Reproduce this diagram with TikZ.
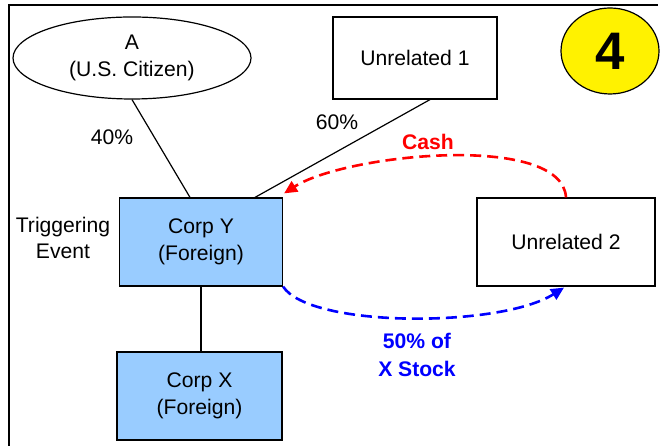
\documentclass[tikz,border=0pt]{standalone}
\usepackage{fontspec}
\setmainfont{Liberation Sans}
\usepackage{xcolor}
\usetikzlibrary{shapes.geometric,arrows.meta,calc}
\definecolor{corpblue}{HTML}{99CCFF}
\begin{document}
\begin{tikzpicture}[x=1bp,y=1bp,
  txt/.style={font=\fontsize{21.2}{27}\selectfont,align=center},
  ent/.style={txt,draw,line width=1.2bp,inner sep=0pt},
  box/.style={ent,rectangle,minimum width=164bp,minimum height=88bp},
  corp/.style={box,fill=corpblue},
  flow/.style={line width=2.6bp,dash pattern=on 11bp off 6bp,-{Triangle[length=13bp,width=12bp]}}]
\useasboundingbox (0,0) rectangle (664,446);
\draw[line width=2.6bp](9,0)--(9,441)--(658,441);
\node[ent,ellipse,minimum width=238bp,minimum height=82bp] (a) at (132,388) {A\\(U.S. Citizen)};
\node[box,minimum height=82bp] (un1) at (415,388) {Unrelated 1};
\node[ent,ellipse,fill=yellow,minimum width=98bp,minimum height=86bp,font=\fontsize{53}{60}\selectfont\bfseries] (four) at (610,395) {4};
\node[corp,minimum width=163bp] (corpy) at (201,204) {Corp Y\\(Foreign)};
\node[box,minimum width=178bp] (un2) at (566,204) {Unrelated 2};
\node[corp,minimum width=165bp] (corpx) at (199.5,50) {Corp X\\(Foreign)};
\draw[line width=1.2bp](a.south)--($(corpy.north)+(-11,0)$);
\draw[line width=1.2bp]($(un1.south)+(15,0)$)--($(corpy.north)+(54,0)$);
\draw[line width=1.2bp](corpy.south)--(corpy.south|-corpx.north);
\node[txt] (p40) at (112,309) {40\%};
\node[txt] (p60) at (337,324) {60\%};
\node[txt] (trig) at (63,208) {Triggering\\Event};
\coordinate (cashend) at ($(corpy.north east)+(1,4)$);
\draw[flow,red](un2.north) .. controls (562,314) and (345,292) .. (cashend);
\node[txt,red,font=\fontsize{21.2}{27}\selectfont\bfseries] (cash) at (428,304) {Cash};
\coordinate (stockend) at ($(un2.south)+(-2,-1)$);
\draw[flow,blue](corpy.south east) .. controls (310,118) and (500,118) .. (stockend);
\node[txt,blue,font=\fontsize{21.2}{29}\selectfont\bfseries] (stock) at (417,91) {50\% of\\X Stock};
\end{tikzpicture}
\end{document}
